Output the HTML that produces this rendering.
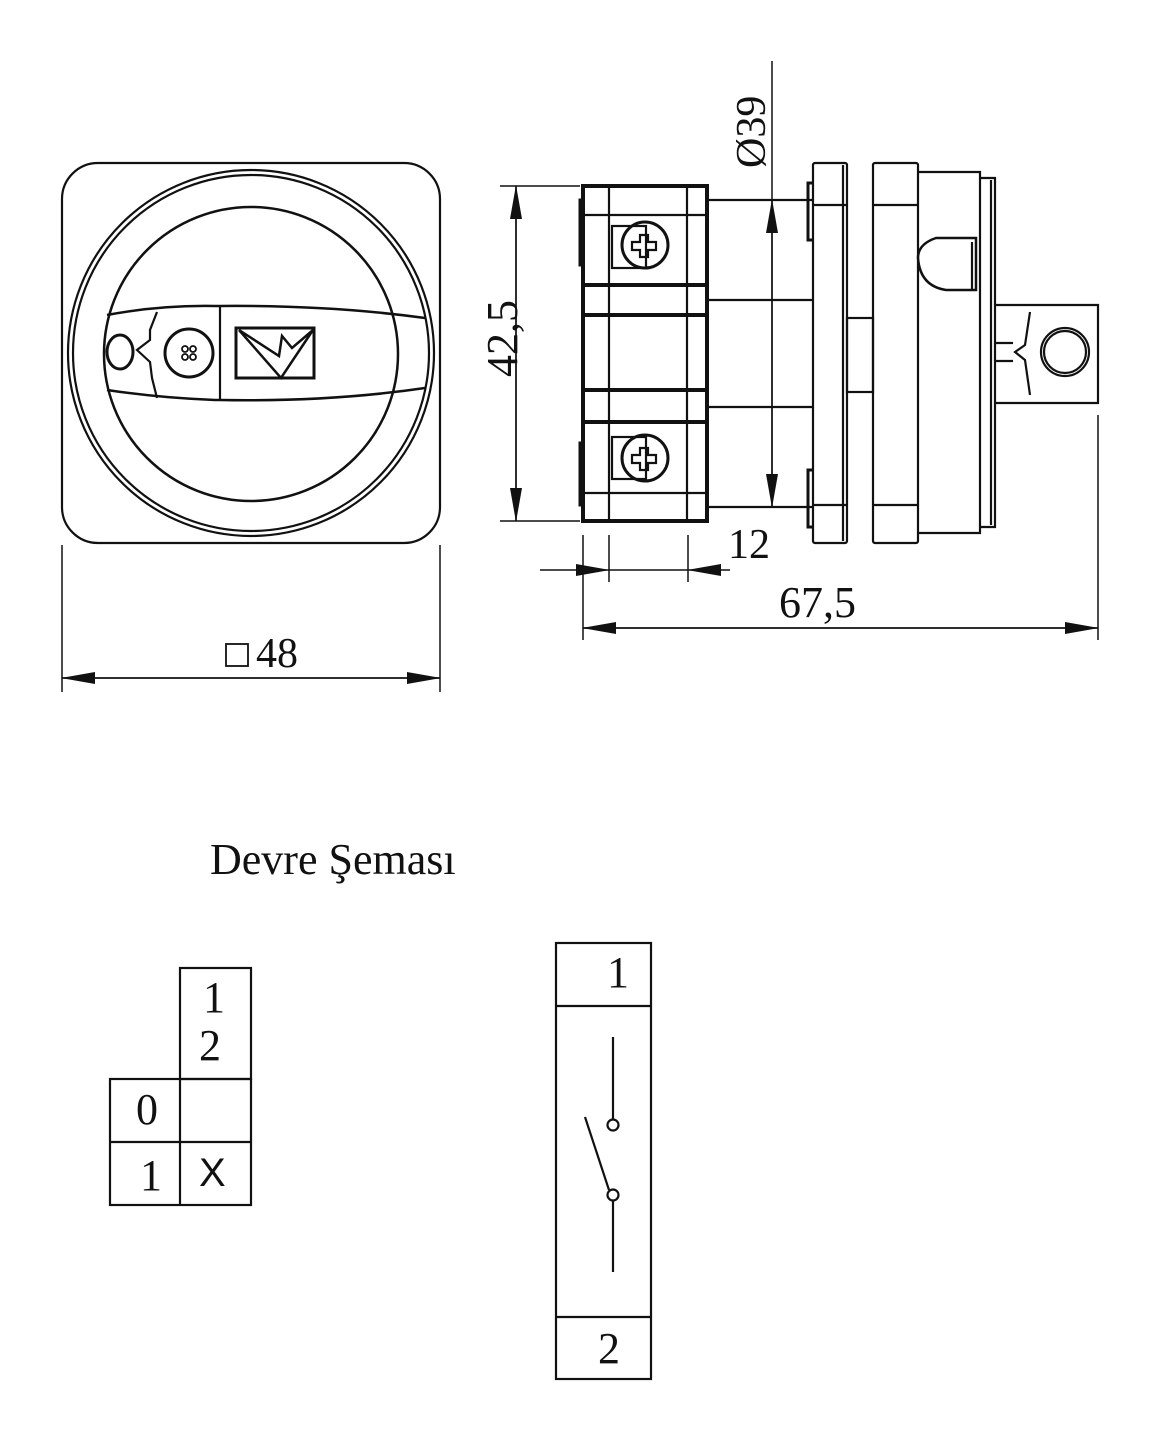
<!DOCTYPE html>
<html><head><meta charset="utf-8"><style>
html,body{margin:0;padding:0;background:#fff}
svg{display:block}
text{font-family:"Liberation Serif",serif;fill:#111}
</style></head><body>
<svg width="1162" height="1442" viewBox="0 0 1162 1442" xmlns="http://www.w3.org/2000/svg">
<defs>
<marker id="ar" markerWidth="34" markerHeight="12" refX="33" refY="6" orient="auto" markerUnits="userSpaceOnUse">
<path d="M0,0 L34,6 L0,12 Z" fill="#111"/></marker>
</defs>
<g fill="none" stroke="#111" stroke-width="2.2">
<rect x="62" y="163" width="378" height="380" rx="36"/>
<circle cx="251" cy="353" r="183"/>
<circle cx="251" cy="353" r="178"/>
<circle cx="251" cy="354" r="147" stroke-width="2.5"/>
<path d="M107,315 Q160,305 215,306 L220,306 Q330,305 425,318" stroke-width="2.5"/>
<path d="M107,390 Q160,398 215,400 L220,400 Q330,402 425,388" stroke-width="2.5"/>
<line x1="220" y1="306" x2="220" y2="400"/>
<path d="M157,312 L150,330 L150,340 L137,350 L150,362 L152,378 L157,398"/>
<ellipse cx="120" cy="352" rx="13" ry="17" stroke-width="3"/>
<circle cx="189" cy="353" r="24" stroke-width="3"/>
<circle cx="185" cy="349" r="3" stroke-width="1.8"/>
<circle cx="193" cy="349" r="3" stroke-width="1.8"/>
<circle cx="185" cy="357" r="3" stroke-width="1.8"/>
<circle cx="193" cy="357" r="3" stroke-width="1.8"/>
<rect x="236" y="328" width="78" height="50" stroke-width="3"/>
<path d="M239,330 L279,356 L282,336 L292,348 L313,330 M239,330 L281,378 L313,330" stroke-width="2.5"/>
<rect x="583" y="186" width="124" height="335" stroke-width="4"/>
<line x1="609" y1="186" x2="609" y2="521"/>
<line x1="687" y1="186" x2="687" y2="521"/>
<line x1="583" y1="215" x2="707" y2="215"/>
<line x1="583" y1="285" x2="707" y2="285" stroke-width="4"/>
<line x1="583" y1="315" x2="707" y2="315" stroke-width="4"/>
<line x1="583" y1="390" x2="707" y2="390" stroke-width="4"/>
<line x1="583" y1="422" x2="707" y2="422" stroke-width="4"/>
<line x1="583" y1="493" x2="707" y2="493"/>
<path d="M583,200 h-3 v65 h3 M583,443 h-3 v62 h3" stroke-width="3"/>
<rect x="612" y="226" width="34" height="42"/>
<circle cx="645" cy="245" r="23" stroke-width="3"/>
<path d="M640,235 h8 v7 h8 v8 h-8 v7 h-8 v-7 h-8 v-8 h8 z" stroke-width="2.2"/>
<rect x="612" y="437" width="34" height="42"/>
<circle cx="645" cy="458" r="23" stroke-width="3"/>
<path d="M640,448 h8 v7 h8 v8 h-8 v7 h-8 v-7 h-8 v-8 h8 z" stroke-width="2.2"/>
<line x1="707" y1="200" x2="812" y2="200"/>
<line x1="707" y1="300" x2="812" y2="300"/>
<line x1="707" y1="407" x2="812" y2="407"/>
<line x1="707" y1="507" x2="812" y2="507"/>
<path d="M812,183 h-4 v57 h4 M812,470 h-4 v57 h4" stroke-width="3"/>
<rect x="813" y="163" width="34" height="380" rx="2"/>
<line x1="843" y1="165" x2="843" y2="541"/>
<line x1="813" y1="205" x2="847" y2="205"/>
<line x1="813" y1="505" x2="847" y2="505"/>
<rect x="847" y="318" width="26" height="74"/>
<rect x="873" y="163" width="45" height="380" rx="2"/>
<line x1="873" y1="205" x2="918" y2="205"/>
<line x1="873" y1="505" x2="918" y2="505"/>
<path d="M918,172 h62 v361 h-62"/>
<path d="M980,178 h15 v349 h-15"/>
<line x1="991" y1="180" x2="991" y2="525"/>
<path d="M976,238 h-40 q-18,6 -18,20 q2,28 28,32 h30 z" stroke-width="2.5"/>
<line x1="972" y1="242" x2="972" y2="290"/>
<path d="M995,305 h103 v98 h-103"/>
<path d="M1030,312 L1025,345 L1015,352 L1025,360 L1030,395"/>
<path d="M995,343 h18 M995,361 h18"/>
<circle cx="1065" cy="352" r="24"/>
<circle cx="1065" cy="352" r="21"/>
</g>
<g stroke="#111" stroke-width="1.5" fill="none">
<line x1="62" y1="545" x2="62" y2="692"/>
<line x1="440" y1="545" x2="440" y2="692"/>
<line x1="62" y1="678" x2="440" y2="678" marker-end="url(#ar)"/>
<line x1="440" y1="678" x2="62" y2="678" marker-end="url(#ar)"/>
<line x1="500" y1="186" x2="580" y2="186"/>
<line x1="500" y1="521" x2="580" y2="521"/>
<line x1="516" y1="186" x2="516" y2="521" marker-end="url(#ar)"/>
<line x1="516" y1="521" x2="516" y2="186" marker-end="url(#ar)"/>
<line x1="772" y1="61" x2="772" y2="200"/>
<line x1="772" y1="200" x2="772" y2="507" marker-end="url(#ar)"/>
<line x1="772" y1="507" x2="772" y2="200" marker-end="url(#ar)"/>
<line x1="583" y1="535" x2="583" y2="640"/>
<line x1="609" y1="535" x2="609" y2="582"/>
<line x1="688" y1="535" x2="688" y2="582"/>
<line x1="1098" y1="415" x2="1098" y2="640"/>
<line x1="540" y1="570" x2="609" y2="570" marker-end="url(#ar)"/>
<line x1="609" y1="570" x2="688" y2="570"/>
<line x1="730" y1="570" x2="688" y2="570" marker-end="url(#ar)"/>
<line x1="583" y1="628" x2="1098" y2="628" marker-end="url(#ar)"/>
<line x1="1098" y1="628" x2="583" y2="628" marker-end="url(#ar)"/>
</g>
<rect x="226" y="644" width="22" height="22" fill="none" stroke="#111" stroke-width="1.8"/>
<text x="256" y="667" font-size="42">48</text>
<text x="728" y="558" font-size="42">12</text>
<text x="779" y="617" font-size="44">67,5</text>
<text transform="translate(517,377) rotate(-90)" font-size="44">42,5</text>
<text transform="translate(765,168) rotate(-90)" font-size="42">Ø39</text>
<text x="210" y="874" font-size="44">Devre Şeması</text>
<g fill="none" stroke="#111" stroke-width="2.2">
<rect x="180" y="968" width="71" height="111"/>
<rect x="110" y="1079" width="141" height="126"/>
<line x1="180" y1="1079" x2="180" y2="1205"/>
<line x1="110" y1="1142" x2="251" y2="1142"/>
<rect x="556" y="943" width="95" height="436"/>
<line x1="556" y1="1006" x2="651" y2="1006"/>
<line x1="556" y1="1317" x2="651" y2="1317"/>
<line x1="613" y1="1037" x2="613" y2="1119"/>
<circle cx="613" cy="1125" r="5.5"/>
<circle cx="613" cy="1195" r="5.5"/>
<line x1="613" y1="1201" x2="613" y2="1272"/>
<line x1="609" y1="1190" x2="585" y2="1117"/>
</g>
<g font-size="44">
<text x="203" y="1012">1</text>
<text x="199" y="1060">2</text>
<text x="136" y="1124">0</text>
<text x="140" y="1190">1</text>
<text x="199" y="1186" style="font-family:'Liberation Sans',sans-serif;font-size:40px">X</text>
<text x="607" y="987">1</text>
<text x="598" y="1363">2</text>
</g>
</svg>
</body></html>
